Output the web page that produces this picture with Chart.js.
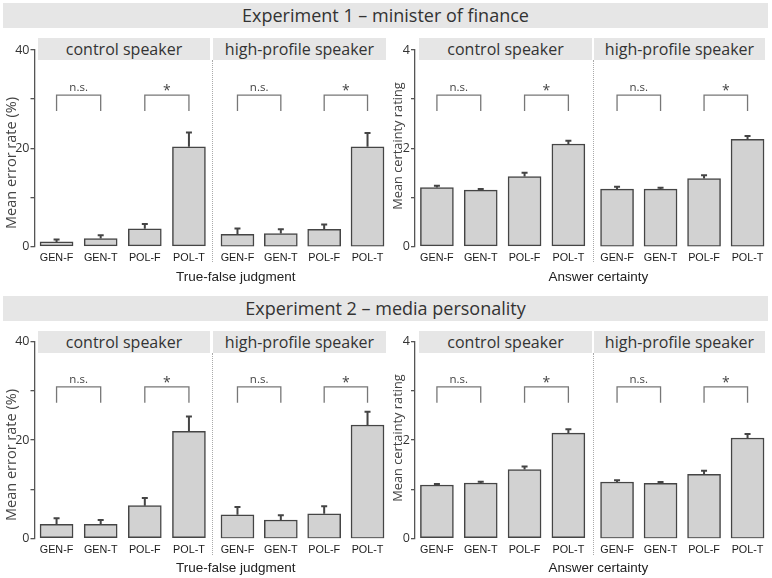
<!DOCTYPE html>
<html>
<head>
<meta charset="utf-8">
<script src="https://cdn.jsdelivr.net/npm/chart.js@4.4.0/dist/chart.umd.min.js"></script>
<style>
  body { margin: 0; background: #fff; }
  #fig { position: relative; width: 772px; height: 578px; overflow: hidden; font-family: "Open Sans", sans-serif; color: #333; }
  #fig canvas { position: absolute; left: 0; top: 0; }
  .banner, .strip { position: absolute; background: #e6e6e6; text-align: center; white-space: nowrap; }
  .banner { font-size: 18px; }
  .strip { font-size: 16px; }
  .xtitle { position: absolute; font-family: "Liberation Sans", Arial, sans-serif; font-size: 13.5px; color: #222; white-space: nowrap; transform: translate(-50%, -50%); }
  .ytitle { position: absolute; color: #444; white-space: nowrap; transform: translate(-50%, -50%) rotate(-90deg); }
  .sep { position: absolute; width: 0; border-left: 1px dotted #aaa; }
</style>
</head>
<body>
<div id="fig"></div>
<script>
// categories on the x axis of every sub-panel
const categories = ["GEN-F", "GEN-T", "POL-F", "POL-T"];

// Experiment 1 - minister of finance
const exp1ErrorControl = [0.94, 1.63, 3.6, 20.3];
const exp1ErrorControlSE = [0.46, 0.67, 1.0, 2.9];
const exp1ErrorHigh = [2.5, 2.65, 3.5, 20.3];
const exp1ErrorHighSE = [1.16, 0.85, 1.0, 2.8];
const exp1CertControl = [1.2, 1.146, 1.423, 2.087];
const exp1CertControlSE = [0.035, 0.027, 0.08, 0.068];
const exp1CertHigh = [1.167, 1.167, 1.382, 2.183];
const exp1CertHighSE = [0.047, 0.027, 0.069, 0.067];

// Experiment 2 - media personality
const exp2ErrorControl = [2.85, 2.85, 6.64, 21.77];
const exp2ErrorControlSE = [1.22, 0.88, 1.56, 3.03];
const exp2ErrorHigh = [4.8, 3.73, 5.0, 23.05];
const exp2ErrorHighSE = [1.57, 0.95, 1.5, 2.71];
const exp2CertControl = [1.085, 1.125, 1.4, 2.14];
const exp2CertControlSE = [0.02, 0.025, 0.06, 0.08];
const exp2CertHigh = [1.146, 1.12, 1.3, 2.04];
const exp2CertHighSE = [0.034, 0.026, 0.075, 0.08];

// axes and annotations
const errorTicks = [0, 20, 40];
const certTicks = [0, 2, 4];
const errorBracket = [30.8, 27.6];   // bracket bar, leg ends
const certBracket = [3.08, 2.76];
const bracketLabels = ["n.s.", "*"];
const experimentTitles = ["Experiment 1 \u2013 minister of finance", "Experiment 2 \u2013 media personality"];
const speakerTitles = ["control speaker", "high-profile speaker"];

const W = 772, H = 578;
const fig = document.getElementById("fig");

const rows = [
  { top: 50, bottom: 246.5, banner: 3, strip: 38 },
  { top: 341.7, bottom: 538.3, banner: 296, strip: 330.7 }
];
const cols = [
  { areas: [[34.5, 211], [215.8, 389.2]], strips: [[38, 210], [213, 386]], sep: 211.5,
    xTitle: "True-false judgment", xTitleX: 235.7, yTitle: "Mean error rate (%)", yTitleX: 10, yTitleShift: 15, yTitleSize: 14.5,
    max: 40, step: 10, ticks: errorTicks, bracket: errorBracket },
  { areas: [[415, 590.3], [595.3, 769.3]], strips: [[419, 592], [594, 765]], sep: 593,
    xTitle: "Answer certainty", xTitleX: 598.3, yTitle: "Mean certainty rating", yTitleX: 397, yTitleShift: -2, yTitleSize: 12.8,
    max: 4, step: 1, ticks: certTicks, bracket: certBracket }
];
const series = [
  [[[exp1ErrorControl, exp1ErrorControlSE], [exp1ErrorHigh, exp1ErrorHighSE]],
   [[exp1CertControl, exp1CertControlSE], [exp1CertHigh, exp1CertHighSE]]],
  [[[exp2ErrorControl, exp2ErrorControlSE], [exp2ErrorHigh, exp2ErrorHighSE]],
   [[exp2CertControl, exp2CertControlSE], [exp2CertHigh, exp2CertHighSE]]]
];

function addDiv(cls, text, css) {
  const d = document.createElement("div");
  d.className = cls;
  d.textContent = text;
  Object.assign(d.style, css);
  fig.appendChild(d);
  return d;
}

function errorBars(values, se, bracket) {
  return {
    id: "errbars",
    afterDatasetsDraw(chart) {
      const { ctx } = chart;
      const y = chart.scales.y;
      const bars = chart.getDatasetMeta(0).data;
      ctx.save();
      ctx.strokeStyle = "#444";
      ctx.lineWidth = 2;
      bars.forEach((bar, i) => {
        const yTop = y.getPixelForValue(values[i] + se[i]);
        ctx.beginPath();
        ctx.moveTo(bar.x, bar.y);
        ctx.lineTo(bar.x, yTop);
        ctx.moveTo(bar.x - 3, yTop);
        ctx.lineTo(bar.x + 3, yTop);
        ctx.stroke();
      });
      // significance brackets: GEN-F vs GEN-T, POL-F vs POL-T
      const yBar = y.getPixelForValue(bracket[0]);
      const yLeg = y.getPixelForValue(bracket[1]);
      ctx.strokeStyle = "#777";
      ctx.lineWidth = 1.3;
      ctx.fillStyle = "#444";
      ctx.textAlign = "center";
      ctx.textBaseline = "middle";
      bracketLabels.forEach((label, k) => {
        const x1 = bars[2 * k].x, x2 = bars[2 * k + 1].x;
        ctx.beginPath();
        ctx.moveTo(x1, yLeg);
        ctx.lineTo(x1, yBar);
        ctx.lineTo(x2, yBar);
        ctx.lineTo(x2, yLeg);
        ctx.stroke();
        if (label === "*") {
          ctx.font = "14px 'Open Sans'";
          ctx.fillText(label, (x1 + x2) / 2, yBar - 4);
        } else {
          ctx.font = "11.5px 'Open Sans'";
          ctx.fillText(label, (x1 + x2) / 2, yBar - 7);
        }
      });
      ctx.restore();
    }
  };
}

function makeChart(row, col, sub) {
  const [values, se] = series[rows.indexOf(row)][cols.indexOf(col)][sub];
  const [left, right] = col.areas[sub];
  const showY = sub === 0;
  const canvas = document.createElement("canvas");
  canvas.width = W;
  canvas.height = H;
  fig.appendChild(canvas);
  new Chart(canvas, {
    type: "bar",
    data: {
      labels: categories,
      datasets: [{
        data: values,
        backgroundColor: "#d2d2d2",
        borderColor: "#454545",
        borderWidth: 1.5,
        borderSkipped: false,
        barThickness: 33
      }]
    },
    options: {
      responsive: false,
      animation: false,
      events: [],
      layout: { padding: { left: left - (showY ? 30 : 0), right: W - right, top: row.top, bottom: H - row.bottom - 20 } },
      plugins: { legend: { display: false }, tooltip: { enabled: false } },
      scales: {
        x: {
          grid: { display: false, drawTicks: false },
          border: { display: false },
          ticks: { color: "#1a1a1a", font: { family: "Liberation Sans", size: 10.8 }, padding: 5, autoSkip: false, maxRotation: 0 },
          afterFit(s) { s.height = 20; }
        },
        y: {
          display: showY,
          min: 0,
          max: col.max,
          ticks: {
            stepSize: col.step,
            padding: 1,
            color: "#333",
            font: { family: "Open Sans", size: 12.5 },
            callback: v => (col.ticks.includes(v) ? v : "")
          },
          grid: { drawOnChartArea: false, tickLength: 4, color: "#555", lineWidth: 1.3 },
          border: { color: "#555", width: 1.3 },
          afterFit(s) { if (showY) s.width = 30; }
        }
      }
    },
    plugins: [errorBars(values, se, col.bracket)]
  });
}

rows.forEach(row => {
  cols.forEach(col => {
    makeChart(row, col, 0);
    makeChart(row, col, 1);
  });
});

rows.forEach((row, r) => {
  addDiv("banner", experimentTitles[r], {
    left: "3px", top: row.banner + "px", width: "765px", height: "25px", lineHeight: "25px"
  });
  cols.forEach(col => {
    col.strips.forEach(([a, b], s) => {
      addDiv("strip", speakerTitles[s], {
        left: a + "px", top: row.strip + "px", width: (b - a) + "px", height: "22px", lineHeight: "22px"
      });
    });
    addDiv("sep", "", { left: col.sep + "px", top: (row.strip + 22) + "px", height: "202px" });
    addDiv("xtitle", col.xTitle, { left: col.xTitleX + "px", top: (row.bottom + 29) + "px" });
    addDiv("ytitle", col.yTitle, {
      left: col.yTitleX + "px", top: ((row.top + row.bottom) / 2 + col.yTitleShift) + "px", fontSize: col.yTitleSize + "px"
    });
  });
});
</script>
</body>
</html>
